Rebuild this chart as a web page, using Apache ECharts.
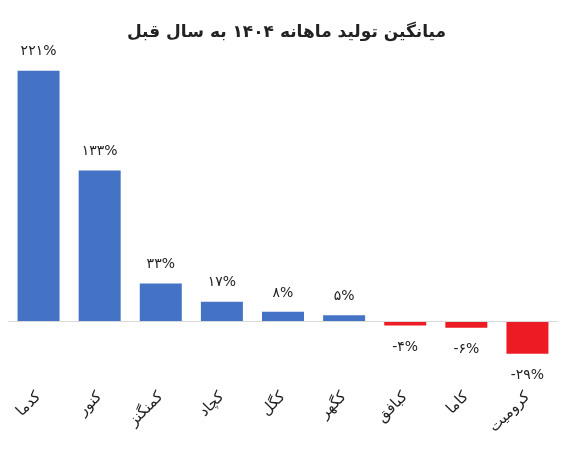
<!DOCTYPE html>
<html><head><meta charset="utf-8">
<script src="https://cdn.jsdelivr.net/npm/echarts@6/dist/echarts.min.js"></script>
<style>html,body{margin:0;padding:0;background:#fff}#c{width:573px;height:454px}</style>
</head><body><div id="c"></div>
<script>
const title = 'میانگین تولید ماهانه ۱۴۰۴ به سال قبل';
const categories = ['کدما','کنور','کمنگنز','کچاد','کگل','کگهر','کبافق','کاما','کرومیت'];
const values = [221, 133, 33, 17, 8, 5, -4, -6, -29];

const fa = s => String(s).replace(/[0-9]/g, d => '۰۱۲۳۴۵۶۷۸۹'[d]);
const FONT = '"DejaVu Sans", sans-serif';

const chart = echarts.init(document.getElementById('c'), null, {renderer:'canvas'});
chart.setOption({
  animation:false,
  backgroundColor:'#fff',
  title:{text:title,left:'center',top:19,textStyle:{fontFamily:FONT,fontSize:17,fontWeight:'bold',color:'#222'}},
  grid:{left:8,right:15,top:38,height:339.5},
  xAxis:{type:'category',data:categories,
    axisLine:{show:false,onZero:false},axisTick:{show:false},
    axisLabel:{interval:0,rotate:45,margin:17,fontFamily:FONT,fontSize:15,color:'#222'}},
  yAxis:{type:'value',min:-50,max:250,show:false,splitLine:{show:false}},
  series:[{type:'bar',barWidth:42,
    data:values.map(v=>({value:v,
      itemStyle:{color:v>=0?'#4472C4':'#ED1C24'},
      label:{position:v>=0?'top':'bottom',distance:v>=0?12:15}})),
    label:{show:true,fontFamily:FONT,fontSize:14,color:'#222',
      formatter:p=>fa(p.value)+'%'},
    markLine:{silent:true,symbol:'none',label:{show:false},
      lineStyle:{color:'#d9d9d9',width:1,type:'solid'},data:[{yAxis:0}]}
  }]
});
</script></body></html>
